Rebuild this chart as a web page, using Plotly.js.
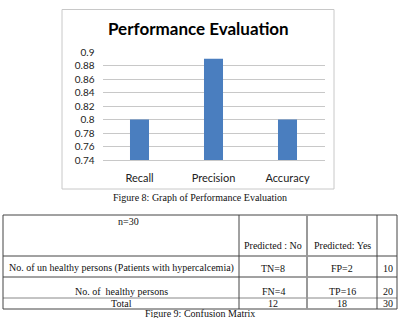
<!DOCTYPE html>
<html>
<head>
<meta charset="utf-8">
<script src="https://cdn.plot.ly/plotly-3.0.1.min.js"></script>
<style>
  html, body { margin: 0; padding: 0; background: #fff; }
  #fig { width: 400px; height: 318px; }
</style>
</head>
<body>
<div id="fig"></div>
<script>
// Performance metrics shown in the bar chart
const metrics = ['Recall', 'Precision', 'Accuracy'];
const scores = [0.80, 0.89, 0.80];
const yTicks = [0.74, 0.76, 0.78, 0.80, 0.82, 0.84, 0.86, 0.88, 0.90];
const yTickLabels = ['0.74', '0.76', '0.78', '0.8', '0.82', '0.84', '0.86', '0.88', '0.9'];

// Confusion matrix (n = 30)
const headerCells = ['n=30', 'Predicted : No', 'Predicted: Yes', ''];
const rowLabels = ['No. of un healthy persons (Patients with hypercalcemia)', 'No. of&nbsp; healthy persons', 'Total'];
const predictedNo = ['TN=8', 'FN=4', '12'];
const predictedYes = ['FP=2', 'TP=16', '18'];
const rowTotals = ['10', '20', '30'];

const W = 400, H = 318;
const px = x => x / W;
const py = y => 1 - y / H;

const serif = 'Liberation Serif, Times New Roman, serif';
const sans = 'Lato, Carlito, Calibri, sans-serif';

const shapes = [];
const annotations = [];

// outer frame around the chart
shapes.push({type: 'rect', xref: 'paper', yref: 'paper',
  x0: px(62), x1: px(334), y0: py(189), y1: py(9.5),
  line: {color: '#c8c8c8', width: 1}});

// captions
annotations.push({xref: 'paper', yref: 'paper', x: px(200), y: py(197), text: 'Figure 8: Graph of Performance Evaluation',
  showarrow: false, font: {family: serif, size: 10, color: '#111'}, xanchor: 'center', yanchor: 'middle'});
annotations.push({xref: 'paper', yref: 'paper', x: px(200), y: py(313.5), text: 'Figure 9: Confusion Matrix',
  showarrow: false, font: {family: serif, size: 10, color: '#111'}, xanchor: 'center', yanchor: 'middle'});

// table grid
const colEdges = [3, 239, 307, 377, 397];
const rowEdges = [215, 256, 277, 298, 309];
const gridColor = '#444';
rowEdges.forEach((y, i) => shapes.push({type: 'line', xref: 'paper', yref: 'paper',
  x0: px(colEdges[0]), x1: px(colEdges[4]), y0: py(y), y1: py(y),
  line: {color: i === 3 ? '#888' : gridColor, width: 1}}));
colEdges.forEach((x, i) => shapes.push({type: 'line', xref: 'paper', yref: 'paper',
  x0: px(x), x1: px(x), y0: py(rowEdges[0]), y1: py(rowEdges[4]),
  line: {color: i === 2 ? '#999' : gridColor, width: i === 2 ? 2 : 1}}));

const colCenters = [121, 273, 342, 388];
const cellFont = {family: serif, size: 10, color: '#111'};
function cell(x, y, t) {
  annotations.push({xref: 'paper', yref: 'paper', x: px(x), y: py(y), text: t, showarrow: false,
    font: cellFont, xanchor: 'center', yanchor: 'middle'});
}
// header row: n=30 sits at the top, column headings at the bottom of the cell
cell(128, 221, headerCells[0]);
cell(colCenters[1], 245, headerCells[1]);
cell(colCenters[2], 245, headerCells[2]);
const rowY = [268, 291.5, 303.5];
rowLabels.forEach((t, i) => {
  cell(colCenters[0], rowY[i], t);
  cell(colCenters[1], rowY[i], predictedNo[i]);
  cell(colCenters[2], rowY[i], predictedYes[i]);
  cell(colCenters[3], rowY[i], rowTotals[i]);
});

// chart title
annotations.push({xref: 'paper', yref: 'paper', x: px(198.5), y: py(29), text: '<b>Performance Evaluation</b>',
  showarrow: false, font: {family: sans, size: 17, color: '#000'}, xanchor: 'center', yanchor: 'middle'});

const data = [{
  type: 'bar', x: metrics, y: scores,
  marker: {color: '#4a7ebf', line: {width: 0}},
  hoverinfo: 'none'
}];

const layout = {
  width: W, height: H,
  margin: {l: 0, r: 0, t: 0, b: 0},
  paper_bgcolor: '#fff', plot_bgcolor: '#fff',
  showlegend: false,
  bargap: 0.743,
  xaxis: {
    domain: [px(102.5), px(324.5)],
    showgrid: false, zeroline: false,
    showline: true, linecolor: '#c8c8c8', linewidth: 1,
    ticks: '', ticklabelstandoff: 8,
    tickfont: {family: sans, size: 11, color: '#222'}
  },
  yaxis: {
    domain: [py(160), py(52)],
    range: [0.74, 0.90],
    tickvals: yTicks, ticktext: yTickLabels,
    showgrid: true, gridcolor: '#c8c8c8', gridwidth: 1,
    zeroline: false, showline: false,
    ticks: '', ticklabelstandoff: 7,
    tickfont: {family: sans, size: 10, color: '#222'}
  },
  shapes: shapes,
  annotations: annotations
};

Plotly.newPlot('fig', data, layout, {staticPlot: true, displayModeBar: false});
</script>
</body>
</html>
